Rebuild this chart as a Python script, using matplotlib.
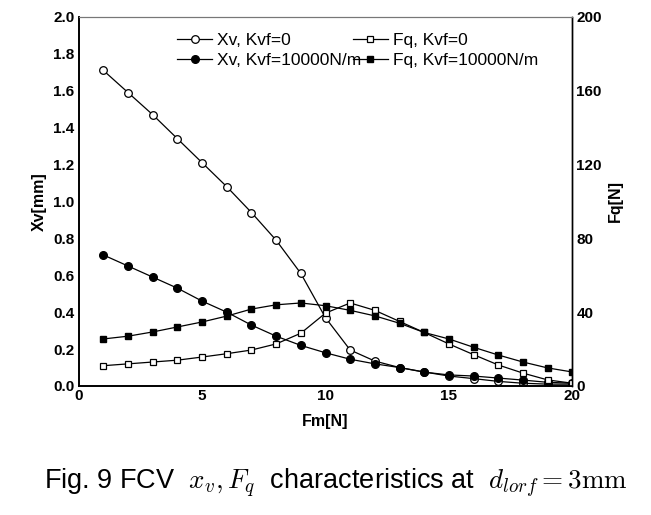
import matplotlib
matplotlib.use("Agg")
import matplotlib.pyplot as plt

plt.rcParams["font.family"] = "Liberation Sans"
plt.rcParams["mathtext.fontset"] = "cm"

fm = list(range(1, 21))
xv_k0 = [1.71, 1.59, 1.47, 1.34, 1.21, 1.08, 0.94, 0.79, 0.61, 0.37,
         0.195, 0.135, 0.10, 0.076, 0.054, 0.04, 0.025, 0.015, 0.01, 0.01]
xv_k1 = [0.71, 0.65, 0.59, 0.53, 0.46, 0.40, 0.33, 0.27, 0.22, 0.18,
         0.145, 0.12, 0.10, 0.075, 0.06, 0.054, 0.043, 0.032, 0.02, 0.015]
fq_k0 = [11, 12, 13, 14, 15.7, 17.5, 19.5, 22.8, 28.6, 39.5,
         45, 41, 35, 29, 22.8, 17, 11.4, 7, 3.3, 1.5]
fq_k1 = [25.5, 27, 29.3, 32, 34.7, 37.9, 41.7, 44, 45, 43.5,
         41, 38, 34, 29, 25.5, 21, 16.8, 13, 9.8, 7.6]

fig = plt.figure(figsize=(6.51, 5.15), dpi=100)
ax = fig.add_axes([0.121, 0.2505, 0.758, 0.7165])
ax2 = ax.twinx()

ms = 5.5
l1, = ax.plot(fm, xv_k0, "-o", color="black", lw=0.9, ms=ms, mfc="white", mec="black", mew=0.9, label="Xv, Kvf=0")
l3, = ax.plot(fm, xv_k1, "-o", color="black", lw=0.9, ms=ms, mfc="black", mec="black", label="Xv, Kvf=10000N/m")
l2, = ax2.plot(fm, fq_k0, "-s", color="black", lw=0.9, ms=5, mfc="white", mec="black", mew=0.9, label="Fq, Kvf=0")
l4, = ax2.plot(fm, fq_k1, "-s", color="black", lw=0.9, ms=5, mfc="black", mec="black", label="Fq, Kvf=10000N/m")

ax.set_xlim(0, 20)
ax.set_ylim(0, 2.0)
ax2.set_ylim(0, 200)
ax.set_xticks([0, 5, 10, 15, 20])
ax.set_yticks([i / 10 for i in range(0, 21, 2)])
ax.set_yticklabels(["%.1f" % (i / 10) for i in range(0, 21, 2)])
ax2.set_yticks([0, 40, 80, 120, 160, 200])

for a in (ax, ax2):
    a.tick_params(length=0, pad=3, labelsize=11)
    for lab in a.get_xticklabels() + a.get_yticklabels():
        lab.set_fontweight("bold")
ax.tick_params(axis="x", pad=2)

for a in (ax, ax2):
    a.spines["top"].set_color("#777777")
    a.spines["left"].set_linewidth(1.2)
    a.spines["bottom"].set_linewidth(1.2)
    a.spines["right"].set_linewidth(1.0)

ax.set_xlabel("Fm[N]", fontsize=11.5, fontweight="bold", labelpad=8)
ax.set_ylabel("Xv[mm]", fontsize=11.5, fontweight="bold", labelpad=5)
ax2.set_ylabel("Fq[N]", fontsize=11.5, fontweight="bold", labelpad=4)

handles = [l1, l3, l2, l4]
ax.legend(handles, [h.get_label() for h in handles],
          ncol=2, frameon=False, fontsize=12.5, handlelength=2.0, handletextpad=0.3,
          columnspacing=-0.5, labelspacing=0.3, loc="upper left",
          bbox_to_anchor=(0.2, 0.958), borderaxespad=0, borderpad=0)

fig.text(0.516, 0.062, r"Fig. 9 FCV  $x_v, F_q$  characteristics at  $d_{lorf} = 3\mathrm{mm}$",
         ha="center", va="center", fontsize=19.5)

fig.savefig("out.png", dpi=100)
